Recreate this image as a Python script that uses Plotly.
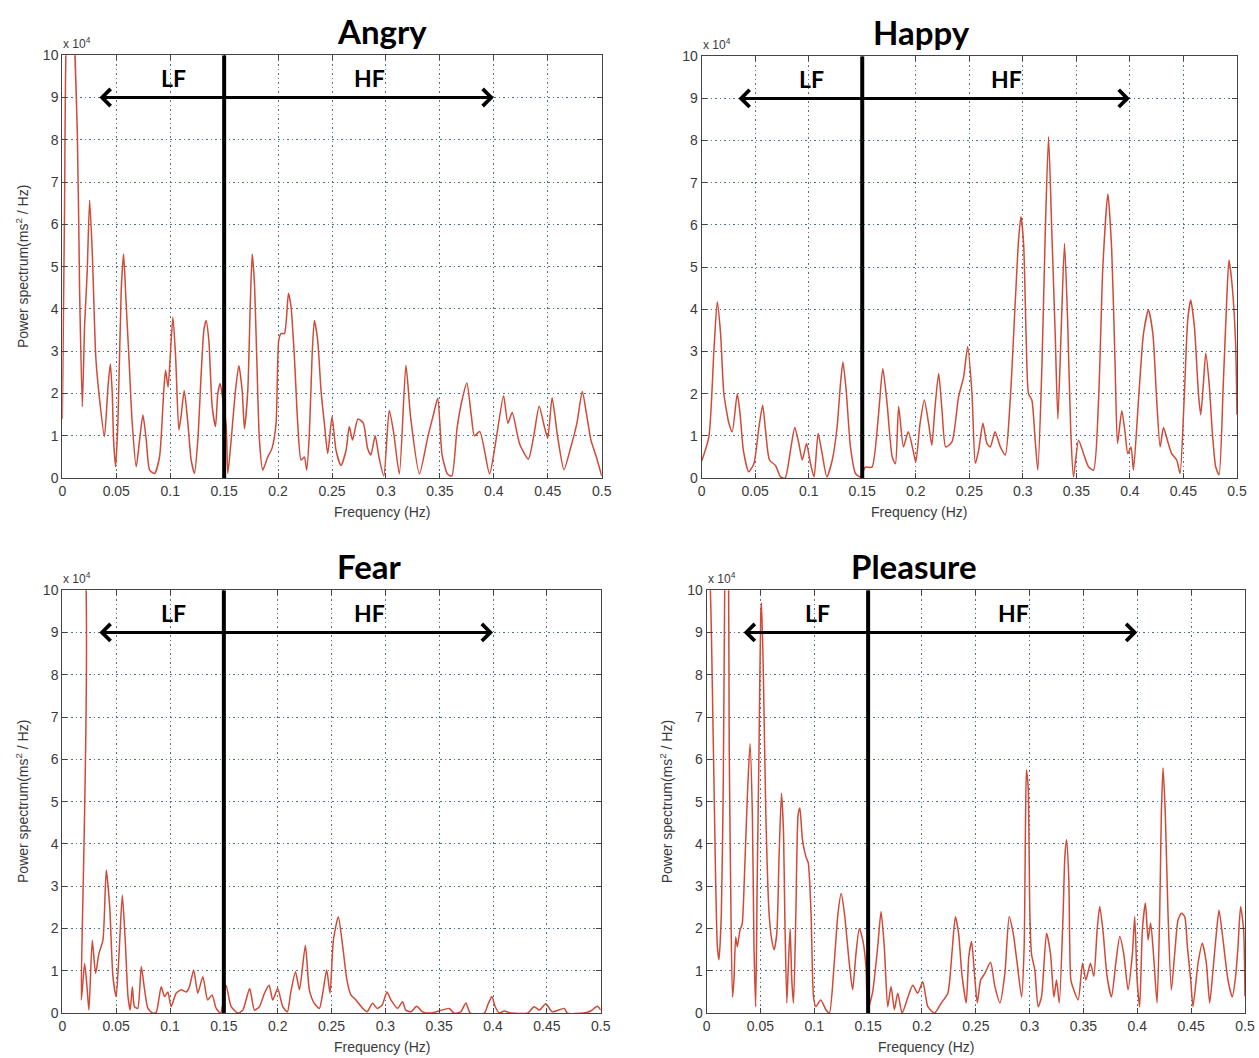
import plotly.graph_objects as go

# ---------------- data (power spectrum, units of 1e4 ms^2/Hz) ----------------
angry_f = [0.000, 0.002, 0.0037, 0.008, 0.0139, 0.016, 0.0185, 0.0207, 0.023, 0.0253, 0.0278, 0.031, 0.0346,
           0.039, 0.0423, 0.0445, 0.0463, 0.0475, 0.0494, 0.0515, 0.0546, 0.0568, 0.059, 0.0617, 0.0648, 0.0685,
           0.0716, 0.0747, 0.0778, 0.0809, 0.0855, 0.0901, 0.094, 0.0957, 0.098, 0.100, 0.1025, 0.105, 0.108,
           0.110, 0.113, 0.1164, 0.1194, 0.1225, 0.1256, 0.1287, 0.1312, 0.1333, 0.1358, 0.1389, 0.142, 0.1441,
           0.1463, 0.148, 0.1519, 0.1534, 0.1565, 0.1605, 0.1636, 0.1667, 0.1688, 0.1719, 0.1741, 0.176, 0.178,
           0.1802, 0.1827, 0.1858, 0.1904, 0.1944, 0.1981, 0.2006, 0.2028, 0.2059, 0.2096, 0.212, 0.2151, 0.2182,
           0.2213, 0.2244, 0.2265, 0.229, 0.2315, 0.2336, 0.2367, 0.2398, 0.2429, 0.246, 0.250, 0.2537, 0.2583,
           0.263, 0.266, 0.269, 0.274, 0.279, 0.283, 0.286, 0.290, 0.2935, 0.298, 0.303, 0.307, 0.3124, 0.3185,
           0.323, 0.331, 0.339, 0.344, 0.348, 0.352, 0.357, 0.361, 0.366, 0.371, 0.375, 0.379, 0.382, 0.387,
           0.396, 0.402, 0.409, 0.413, 0.417, 0.424, 0.432, 0.437, 0.442, 0.447, 0.450, 0.454, 0.459, 0.465,
           0.471, 0.477, 0.482, 0.486, 0.490, 0.495, 0.500]
angry_p = [1.4, 6.25, 10.5, 12.0, 8.15, 4.45, 1.69, 3.65, 4.84, 6.57, 5.3, 2.87, 1.84,
           0.98, 2.15, 2.7, 1.99, 0.9, 0.27, 1.29, 4.45, 5.3, 4.2, 2.87, 1.29, 0.27,
           0.9, 1.49, 0.9, 0.19, 0.11, 0.5, 2.07, 2.55, 2.15, 2.87, 3.81, 2.87, 1.14,
           1.45, 2.07, 1.29, 0.43, 0.11, 0.9, 2.47, 3.5, 3.73, 3.26, 1.69, 1.22, 2.0,
           2.24, 2.0, 1.22, 0.11, 0.9, 2.07, 2.66, 2.07, 1.17, 2.07, 4.0, 5.3, 4.65,
           2.87, 0.9, 0.19, 0.5, 0.71, 1.29, 3.26, 3.42, 3.42, 4.37, 4.05, 2.87, 1.29,
           0.43, 0.5, 0.19, 1.06, 2.87, 3.73, 3.26, 2.07, 1.29, 0.58, 1.45, 0.66, 0.3,
           0.66, 1.22, 0.9, 1.4, 1.3, 0.7, 0.55, 1.0, 0.5, 0.05, 1.6, 1.1, 0.1, 2.67,
           1.4, 0.1, 1.0, 1.5, 1.89, 0.55, 0.1, 0.05, 1.2, 1.9, 2.25, 1.5, 1.0, 1.1,
           0.1, 0.9, 1.95, 1.3, 1.55, 0.8, 0.45, 1.0, 1.7, 1.2, 0.95, 1.9, 1.0, 0.2,
           0.7, 1.3, 2.05, 1.5, 0.9, 0.5, 0.05]

happy_f = [0.000, 0.0068, 0.0115, 0.0146, 0.0177, 0.0208, 0.0255, 0.0286, 0.0333, 0.036, 0.039, 0.044, 0.0488,
           0.0535, 0.057, 0.0597, 0.0634, 0.069, 0.0737, 0.078, 0.083, 0.087, 0.0908, 0.094, 0.098, 0.1017,
           0.105, 0.1088, 0.112, 0.117, 0.122, 0.1265, 0.1297, 0.132, 0.135, 0.139, 0.1437, 0.148, 0.153,
           0.159, 0.165, 0.1692, 0.1732, 0.178, 0.181, 0.184, 0.1885, 0.193, 0.1975, 0.200, 0.204, 0.208,
           0.212, 0.215, 0.218, 0.2214, 0.2245, 0.228, 0.2338, 0.240, 0.2447, 0.2485, 0.2525, 0.2556, 0.2587,
           0.2627, 0.2665, 0.2696, 0.274, 0.279, 0.2836, 0.2882, 0.293, 0.296, 0.2982, 0.3007, 0.303, 0.3053,
           0.3084, 0.3115, 0.314, 0.3178, 0.3209, 0.324, 0.3271, 0.3302, 0.3327, 0.3358, 0.3389, 0.3417, 0.3448,
           0.3473, 0.352, 0.3567, 0.3613, 0.366, 0.3707, 0.3747, 0.3794, 0.383, 0.3862, 0.3884, 0.3924, 0.3955,
           0.398, 0.401, 0.4033, 0.408, 0.4127, 0.4173, 0.4214, 0.425, 0.4282, 0.4313, 0.435, 0.439, 0.4437,
           0.4468, 0.4506, 0.454, 0.4568, 0.4602, 0.464, 0.4661, 0.4686, 0.4708, 0.474, 0.477, 0.4801, 0.4832,
           0.4872, 0.4904, 0.4925, 0.4956, 0.4987, 0.500]
happy_p = [0.4, 0.98, 3.03, 4.18, 3.43, 2.0, 1.3, 1.1, 2.0, 1.5, 0.66, 0.15, 0.34,
           1.2, 1.73, 1.13, 0.43, 0.3, 0.03, 0.0, 0.66, 1.2, 0.82, 0.43, 0.82, 0.34,
           0.03, 1.06, 0.66, 0.03, 0.43, 1.2, 2.24, 2.75, 2.08, 0.74, 0.11, 0.03, 0.26,
           0.26, 1.45, 2.6, 1.77, 0.5, 0.34, 1.7, 0.74, 1.1, 0.66, 0.38, 1.29, 1.85,
           1.29, 0.78, 1.69, 2.48, 1.61, 0.74, 0.86, 1.93, 2.4, 3.12, 2.0, 0.35, 0.66,
           1.3, 0.82, 0.74, 1.1, 0.74, 0.55, 1.85, 4.22, 5.64, 6.2, 5.56, 3.43, 2.0,
           1.85, 0.9, 0.19, 2.64, 5.8, 8.09, 5.8, 3.43, 1.4, 3.5, 5.56, 3.83, 1.07,
           0.03, 0.9, 0.58, 0.27, 0.19, 1.85, 5.0, 6.74, 5.4, 2.64, 0.82, 1.6, 1.07,
           0.58, 0.74, 0.19, 1.85, 3.43, 3.98, 3.43, 1.85, 0.74, 1.2, 0.9, 0.58, 0.43,
           0.11, 1.85, 3.75, 4.22, 3.59, 2.0, 1.5, 2.24, 2.96, 2.24, 1.07, 0.27, 0.08,
           2.24, 4.22, 5.17, 4.53, 3.19, 1.5]

fear_f = [0.000, 0.0160, 0.0176, 0.0207, 0.0229, 0.0247, 0.0278, 0.0309, 0.034, 0.0377, 0.0408, 0.044, 0.047,
          0.050, 0.053, 0.0557, 0.0584, 0.061, 0.063, 0.065, 0.067, 0.070, 0.0733, 0.0764, 0.0795, 0.084,
          0.0872, 0.0918, 0.095, 0.098, 0.101, 0.1057, 0.1104, 0.115, 0.118, 0.122, 0.1258, 0.1305, 0.135,
          0.139, 0.1429, 0.147, 0.152, 0.1568, 0.163, 0.1676, 0.174, 0.1784, 0.183, 0.1877, 0.192, 0.1954,
          0.200, 0.2047, 0.209, 0.212, 0.2165, 0.2202, 0.2257, 0.2294, 0.234, 0.2387, 0.2418, 0.2455, 0.2486,
          0.2517, 0.2563, 0.2604, 0.2643, 0.268, 0.2727, 0.279, 0.283, 0.288, 0.2925, 0.297, 0.3015, 0.3052,
          0.3114, 0.316, 0.319, 0.3237, 0.329, 0.3346, 0.3423, 0.3593, 0.3638, 0.370, 0.3748, 0.3788, 0.392,
          0.3955, 0.399, 0.402, 0.406, 0.4104, 0.4165, 0.432, 0.4382, 0.443, 0.449, 0.455, 0.4661, 0.469,
          0.4845, 0.4907, 0.4969, 0.500]
fear_p = [12.0, 12.0, 0.31, 1.17, 0.62, 0.07, 1.72, 0.94, 1.41, 1.72, 3.38, 2.51, 0.86,
          0.39, 1.57, 2.79, 1.72, 0.39, 0.07, 0.62, 0.15, 0.11, 1.1, 0.55, 0.11, 0.0,
          0.02, 0.62, 0.39, 0.5, 0.15, 0.47, 0.55, 0.5, 0.62, 1.02, 0.47, 0.86, 0.31,
          0.43, 0.11, 0.0, 0.66, 0.15, 0.0, 0.07, 0.58, 0.07, 0.15, 0.47, 0.66, 0.31,
          0.58, 0.15, 0.03, 0.47, 0.98, 0.55, 1.6, 0.55, 0.23, 0.11, 0.47, 1.02, 0.47,
          1.72, 2.28, 1.57, 0.78, 0.43, 0.31, 0.11, 0.03, 0.23, 0.11, 0.19, 0.5, 0.31,
          0.11, 0.27, 0.07, 0.03, 0.16, 0.03, 0.0, 0.11, 0.0, 0.03, 0.24, 0.0, 0.0,
          0.22, 0.39, 0.15, 0.0, 0.05, 0.0, 0.0, 0.15, 0.07, 0.22, 0.03, 0.11, 0.0,
          0.0, 0.05, 0.16, 0.07]

pleasure_f = [0.000, 0.003, 0.0046, 0.0084, 0.010, 0.0115, 0.0137, 0.0155, 0.0168, 0.0185, 0.0200, 0.021,
              0.0223, 0.024, 0.0254, 0.027, 0.0285, 0.031, 0.033, 0.035, 0.0378, 0.0403, 0.0425, 0.044, 0.0456,
              0.047, 0.0487, 0.0503, 0.051, 0.0528, 0.055, 0.058, 0.0605, 0.0627, 0.0652, 0.0673, 0.0695,
              0.0714, 0.0726, 0.0745, 0.076, 0.0776, 0.0791, 0.0807, 0.0829, 0.085, 0.0866, 0.089, 0.0922,
              0.0944, 0.097, 0.0993, 0.1015, 0.106, 0.1108, 0.114, 0.1185, 0.122, 0.125, 0.128, 0.1325, 0.1356,
              0.1387, 0.1418, 0.145, 0.148, 0.1496, 0.154, 0.1589, 0.162, 0.165, 0.1682, 0.1713, 0.1744, 0.1775,
              0.1816, 0.187, 0.1915, 0.196, 0.2008, 0.2055, 0.2117, 0.218, 0.224, 0.2278, 0.231, 0.234, 0.237,
              0.2411, 0.2435, 0.2461, 0.2492, 0.2514, 0.2545, 0.2584, 0.2637, 0.2677, 0.2724, 0.277, 0.281,
              0.2847, 0.2884, 0.2925, 0.2949, 0.2961, 0.297, 0.2986, 0.3002, 0.3017, 0.3048, 0.3079, 0.311,
              0.3157, 0.3194, 0.3225, 0.325, 0.3275, 0.3311, 0.3327, 0.3343, 0.3364, 0.3383, 0.341, 0.3451,
              0.3491, 0.3522, 0.3565, 0.3596, 0.3627, 0.3651, 0.3683, 0.3719, 0.376, 0.380, 0.3837, 0.3874,
              0.3914, 0.3954, 0.3976, 0.3998, 0.4022, 0.4047, 0.4075, 0.410, 0.4124, 0.4152, 0.4183, 0.4208,
              0.4223, 0.4239, 0.426, 0.4285, 0.4316, 0.4347, 0.4378, 0.4409, 0.444, 0.4465, 0.4496, 0.4517,
              0.4564, 0.4604, 0.4641, 0.4672, 0.4703, 0.4734, 0.4759, 0.4796, 0.4842, 0.4882, 0.4913, 0.4935,
              0.4959, 0.4987, 0.500]
pleasure_p = [12.0, 10.5, 8.8, 3.14, 1.57, 1.26, 2.36, 5.5, 10.0, 13.0, 12.0, 6.3,
              3.1, 0.38, 0.78, 1.8, 1.57, 1.96, 2.1, 3.14, 5.1, 6.37, 4.7, 1.57, 0.15,
              3.14, 6.3, 9.45, 9.7, 7.9, 4.7, 2.36, 1.73, 1.5, 1.89, 3.7, 5.2,
              4.3, 2.36, 0.24, 1.18, 2.0, 0.78, 0.24, 2.36, 4.7, 4.85, 4.1, 3.7,
              3.55, 2.36, 0.38, 0.15, 0.31, 0.08, 0.0, 1.18, 2.36, 2.83, 2.36, 1.18, 0.55,
              1.4, 2.0, 1.73, 1.1, 0.08, 0.47, 1.57, 2.4, 1.57, 0.15, 0.63, 0.08, 0.47,
              0.0, 0.38, 0.66, 0.47, 0.74, 0.15, 0.0, 0.24, 0.47, 1.4, 2.28, 1.89, 0.94,
              0.24, 1.33, 1.69, 0.78, 0.24, 0.78, 0.94, 1.2, 0.63, 0.24, 0.94, 2.28,
              1.89, 1.18, 0.38, 1.57, 4.33, 5.75, 5.35, 2.36, 1.4, 1.02, 0.15, 0.38,
              1.89, 1.4, 0.38, 0.78, 0.24, 2.36, 3.7, 4.1, 3.15, 0.78, 0.55, 0.31,
              1.18, 0.78, 1.18, 0.87, 1.97, 2.52, 1.89, 0.87, 0.38, 1.18, 1.81, 1.4,
              0.55, 1.4, 2.28, 0.78, 0.15, 1.97, 2.6, 1.73, 2.13, 1.33, 0.24, 2.36,
              4.7, 5.8, 4.7, 2.36, 0.55, 1.4, 2.2, 2.36, 2.28, 1.57, 0.78, 0.15,
              1.18, 1.65, 1.18, 0.24, 1.02, 1.89, 2.43, 1.73, 0.78, 0.38, 0.87, 1.57,
              2.52, 1.97, 0.4]

panel_titles = ["Angry", "Happy", "Fear", "Pleasure"]
x_tick_vals = [0, 0.05, 0.1, 0.15, 0.2, 0.25, 0.3, 0.35, 0.4, 0.45, 0.5]
x_tick_text = ["0", "0.05", "0.1", "0.15", "0.2", "0.25", "0.3", "0.35", "0.4", "0.45", "0.5"]
y_tick_vals = [0, 1, 2, 3, 4, 5, 6, 7, 8, 9, 10]
lf_hf_boundary = 0.15
band_low, band_high = 0.033, 0.4
arrow_level = 9

# ---------------- layout ----------------
W, H = 1259, 1058


# small empirical correction of the capture's slight rescale
def px(s):
    return (s - 2.6) / 0.99


def py_(s):
    return (s - 7.8) / 0.985


# target pixel boxes of plot areas: (left, right, top, bottom)
boxes = [(61, 601, 55, 478), (701, 1237, 56, 478), (61, 600, 590, 1013), (706, 1245, 590, 1013)]
series = [(angry_f, angry_p), (happy_f, happy_p), (fear_f, fear_p), (pleasure_f, pleasure_p)]
show_ytitle = [True, False, True, True]

fig = go.Figure()
LINE_COLOR = "#cf4a38"
GRID_COLOR = "#4f7585"
TICK_FONT = dict(family="Liberation Sans, Arial, sans-serif", size=14, color="#3a3a3a")


def fx_(s):
    return px(s) / W


def fy_(s):
    return 1 - py_(s) / H


for i, ((l, r, t, b), (fx, pv), title) in enumerate(zip(boxes, series, panel_titles)):
    n = i + 1
    xa = "x" if n == 1 else f"x{n}"
    ya = "y" if n == 1 else f"y{n}"
    xkey = "xaxis" if n == 1 else f"xaxis{n}"
    ykey = "yaxis" if n == 1 else f"yaxis{n}"
    fig.add_trace(go.Scatter(x=fx, y=pv, mode="lines", xaxis=xa, yaxis=ya,
                             line=dict(color=LINE_COLOR, width=1.5, shape="spline", smoothing=0.6),
                             showlegend=False, hoverinfo="skip"))
    common = dict(showline=True, linecolor="#444", linewidth=1.2, mirror="ticks",
                  ticks="inside", ticklen=5, tickcolor="#444", showgrid=True,
                  gridcolor=GRID_COLOR, griddash="1.5px,3px", gridwidth=1, zeroline=False,
                  tickfont=TICK_FONT, fixedrange=True)
    fig.layout[xkey] = dict(domain=[fx_(l), fx_(r)], range=[0, 0.5], anchor=ya,
                            tickvals=x_tick_vals, ticktext=x_tick_text, **common)
    fig.layout[ykey] = dict(domain=[fy_(b), fy_(t)], range=[0, 10], anchor=xa,
                            tickvals=y_tick_vals, **common)

    # LF/HF boundary
    fig.add_shape(type="line", xref=xa, yref=ya, x0=lf_hf_boundary, x1=lf_hf_boundary,
                  y0=0, y1=10, line=dict(color="black", width=4))
    # double arrow
    fig.add_annotation(xref=xa, yref=ya, axref=xa, ayref=ya, x=band_high, y=arrow_level,
                       ax=band_low, ay=arrow_level, text="", showarrow=True,
                       arrowhead=4, startarrowhead=4, arrowside="end+start",
                       arrowsize=1.1, startarrowsize=1.1, arrowwidth=3, arrowcolor="black")
    # LF / HF labels
    fig.add_annotation(xref=xa, yref=ya, x=0.103, y=9.45, text="<b>LF</b>", showarrow=False,
                       font=dict(family="Lato, Open Sans, sans-serif", size=23, color="black"))
    fig.add_annotation(xref=xa, yref=ya, x=0.285, y=9.45, text="<b>HF</b>", showarrow=False,
                       font=dict(family="Lato, Open Sans, sans-serif", size=23, color="black"))
    # panel title
    fig.add_annotation(xref="paper", yref="paper", x=fx_((l + r) / 2 + 3), y=fy_(t - 24),
                       text=f"<b>{title}</b>", showarrow=False, yanchor="middle",
                       font=dict(family="Lato, Open Sans, sans-serif", size=33, color="black"))
    # exponent label
    fig.add_annotation(xref="paper", yref="paper", x=fx_(l - 1), y=fy_(t - 2),
                       text="x 10<sup>4</sup>", showarrow=False, xanchor="left", yanchor="bottom",
                       font=dict(family="Liberation Sans, Arial, sans-serif", size=12, color="#3a3a3a"))
    # x title
    fig.add_annotation(xref="paper", yref="paper", x=fx_((l + r) / 2), y=fy_(b + 34),
                       text="Frequency (Hz)", showarrow=False, yanchor="middle",
                       font=dict(family="Liberation Sans, Arial, sans-serif", size=14, color="#3a3a3a"))
    if show_ytitle[i]:
        fig.add_annotation(xref="paper", yref="paper", x=fx_(l - 41), y=fy_((t + b) / 2),
                           text="Power spectrum(ms<sup>2</sup> / Hz)", showarrow=False,
                           textangle=-90, xanchor="center", yanchor="middle",
                           font=dict(family="Liberation Sans, Arial, sans-serif", size=14, color="#3a3a3a"))

fig.update_layout(width=W, height=H, margin=dict(l=0, r=0, t=0, b=0),
                  paper_bgcolor="white", plot_bgcolor="white")

fig.write_html("out.html", config={"displayModeBar": False},
               post_script="document.body.style.margin='0';document.body.style.overflow='hidden';")
